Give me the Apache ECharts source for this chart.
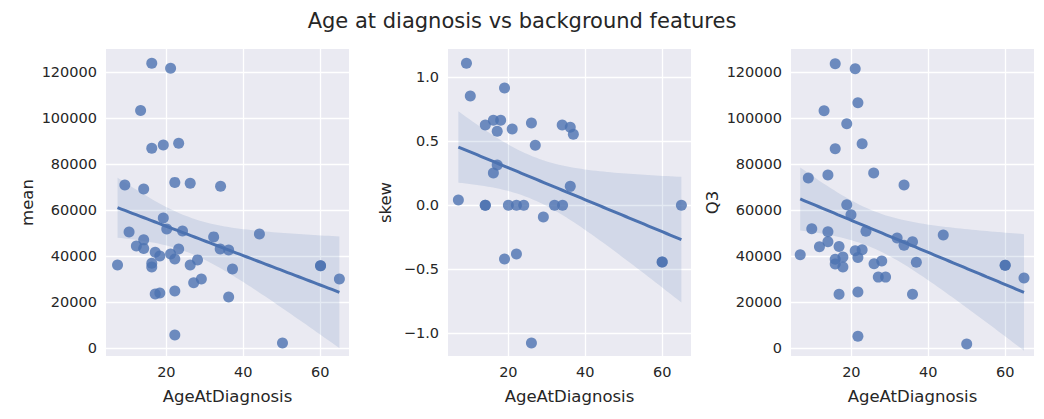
<!DOCTYPE html>
<html><head><meta charset="utf-8">
<script src="https://cdn.jsdelivr.net/npm/echarts@6/dist/echarts.min.js"></script>
<style>html,body{margin:0;background:#fff}#c{width:1044px;height:419px}</style>
</head><body><div id="c"></div>
<script>
var title = 'Age at diagnosis vs background features';
var xName = 'AgeAtDiagnosis';
var panelNames = ['mean', 'skew', 'Q3'];

var meanAge = [16.2,21.1,13.3,16.2,19.2,23.2,9.2,14.1,22.2,26.2,34.1,19.2,10.3,20.1,24.2,14.1,12.2,14.1,17.1,18.3,21.1,22.2,23.2,32.3,34,36.2,44.2,7.3,16.2,16.2,26.2,28.1,27.1,29.1,17.1,18.3,22.2,36.2,37.2,22.2,50.2,60.1,60.1,65];
var meanVal = [123800,121600,103300,86800,88300,89000,70900,69100,72000,71600,70300,56500,50400,51700,50900,47000,44300,43300,41600,40000,40900,38700,43000,48300,43000,42600,49600,36100,36800,35200,36100,38300,28400,30000,23500,23900,24800,22200,34300,5600,2200,35700,35700,30000];

var skewAge = [9.1,10.1,19,14,16.1,18,17.1,21,26,34,36.1,36.9,27,17.1,16.1,36.1,7,14,14,20,22.1,24,32,34.1,65,29.1,19,22.1,60,60,26];
var skewVal = [1.11,0.854,0.916,0.627,0.664,0.664,0.578,0.596,0.643,0.627,0.61,0.555,0.469,0.315,0.252,0.148,0.041,0,0,0,0,0,0,0,0,-0.091,-0.42,-0.38,-0.443,-0.443,-1.076];

var q3Age = [15.8,21,21.7,12.9,18.8,22.8,15.8,25.8,13.9,8.8,33.7,18.8,19.9,9.7,13.9,23.8,13.9,11.7,16.8,31.9,33.7,35.9,6.7,15.8,15.8,17.8,17.8,21,22.8,21.7,25.9,27.9,27,28.9,36.9,16.8,21.7,35.9,43.9,21.7,50,60,60,64.9];
var q3Val = [123600,121400,106600,103100,97500,88800,86600,76100,75200,73900,70900,62300,57900,51800,50500,50800,46200,44000,44100,47800,44700,46200,40500,38600,36500,39500,35200,42300,42700,39300,36600,37800,30800,30800,37300,23400,24300,23400,49100,5100,1700,36000,36000,30400];

var yTicks = [
  [0,20000,40000,60000,80000,100000,120000],
  [-1,-0.5,0,0.5,1],
  [0,20000,40000,60000,80000,100000,120000]
];
var yRange = [[-3500,130000],[-1.177,1.221],[-3500,130000]];

function fit(xs, ys) {
  var n = xs.length, mx = 0, my = 0;
  for (var i = 0; i < n; i++) { mx += xs[i]; my += ys[i]; }
  mx /= n; my /= n;
  var sxx = 0, sxy = 0;
  for (i = 0; i < n; i++) { sxx += (xs[i]-mx)*(xs[i]-mx); sxy += (xs[i]-mx)*(ys[i]-my); }
  var b = sxy / sxx, a = my - b * mx, sse = 0;
  for (i = 0; i < n; i++) { var r = ys[i] - a - b*xs[i]; sse += r*r; }
  var s = Math.sqrt(sse / (n-2)), t = 1.96 + 2.4/(n-2);
  var x0 = Math.min.apply(null, xs), x1 = Math.max.apply(null, xs);
  var line = [], upper = [], lower = [];
  for (var k = 0; k <= 60; k++) {
    var x = x0 + (x1-x0)*k/60, y = a + b*x;
    var se = s * Math.sqrt(1/n + (x-mx)*(x-mx)/sxx);
    line.push([x, y]); upper.push([x, y + t*se]); lower.push([x, y - t*se]);
  }
  return { line: line, band: upper.concat(lower.reverse()) };
}

var sets = [[meanAge, meanVal], [skewAge, skewVal], [q3Age, q3Val]];
var lefts = [106, 448, 791];
var blue = '#4c72b0', ink = '#262626';
var grids = [], xAxes = [], yAxes = [], series = [];

function fmtY(i) {
  return function(v) {
    if (i == 1) return (v < 0 ? '\u2212' : '') + Math.abs(v).toFixed(1);
    return String(Math.round(v));
  };
}

sets.forEach(function(d, i) {
  var f = fit(d[0], d[1]);
  grids.push({ left: lefts[i], top: 49, width: 243, height: 307, backgroundColor: '#eaeaf2', show: true, borderWidth: 0 });
  xAxes.push({
    type: 'value', gridIndex: i, min: 4.3, max: 67.5,
    name: xName, nameLocation: 'middle', nameGap: 32, nameTextStyle: { fontSize: 16.5, color: ink },
    axisLine: { show: false }, axisTick: { show: false, customValues: [20, 40, 60] },
    axisLabel: { color: ink, fontSize: 14.5, margin: 8, customValues: [20, 40, 60] },
    splitLine: { lineStyle: { color: '#fff', width: 1.3 } }
  });
  yAxes.push({
    type: 'value', gridIndex: i, min: yRange[i][0], max: yRange[i][1],
    name: panelNames[i], nameLocation: 'middle', nameGap: i == 1 ? 54 : 70, nameTextStyle: { fontSize: 16.5, color: ink },
    axisLine: { show: false }, axisTick: { show: false, customValues: yTicks[i] },
    axisLabel: { color: ink, fontSize: 14.5, margin: 9, customValues: yTicks[i], formatter: fmtY(i) },
    splitLine: { lineStyle: { color: '#fff', width: 1.3 } }
  });
  series.push({
    type: 'custom', xAxisIndex: i, yAxisIndex: i, data: [0], silent: true, z: 1,
    renderItem: (function(band) {
      return function(params, api) {
        return { type: 'polygon', shape: { points: band.map(function(p) { return api.coord(p); }) },
          style: { fill: 'rgba(76,114,176,0.15)' } };
      };
    })(f.band)
  });
  series.push({
    type: 'scatter', xAxisIndex: i, yAxisIndex: i, symbolSize: 11, z: 2,
    itemStyle: { color: blue, opacity: 0.8 },
    data: d[0].map(function(x, k) { return [x, d[1][k]]; })
  });
  series.push({
    type: 'line', xAxisIndex: i, yAxisIndex: i, showSymbol: false, z: 3,
    lineStyle: { color: blue, width: 3 }, data: f.line
  });
});

var chart = echarts.init(document.getElementById('c'), null, { renderer: 'svg' });
chart.setOption({
  animation: false,
  title: { text: title, left: 'center', top: 5, textStyle: { fontSize: 21, fontWeight: 'normal', color: ink, fontFamily: 'DejaVu Sans' } },
  textStyle: { fontFamily: 'DejaVu Sans' },
  grid: grids, xAxis: xAxes, yAxis: yAxes, series: series
});
</script></body></html>
